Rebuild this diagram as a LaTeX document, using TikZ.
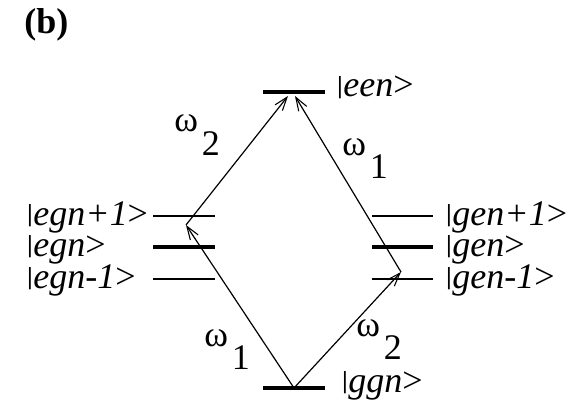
\documentclass[tikz,border=0pt]{standalone}
\usepackage{fontspec}
\usepackage{graphicx}
\setmainfont{Liberation Serif}
\usetikzlibrary{arrows.meta}
\tikzset{
  thinlevel/.style={line width=1pt},
  thicklevel/.style={line width=2.8pt},
  photon/.style={line width=0.9pt,-{Straight Barb[length=10pt,width=7pt,line width=0.8pt]}},
  statelabel/.style={inner sep=0pt,font=\fontsize{27}{32}\selectfont},
}
\newcommand{\freq}[1]{\textup{ω}\hspace{3pt}\raisebox{-0.64em}{#1}}
\newcommand{\state}[1]{\raisebox{0.1em}{\scalebox{1}[0.68]{|}}\textit{#1}>}
\begin{document}
\begin{tikzpicture}[x=0.75pt,y=-0.75pt]
\useasboundingbox (0,0) rectangle (584,399);

\node[statelabel,anchor=base west] (panel) at (24,34) {\textbf{(b)}};

% levels
\coordinate (een) at (294,92);
\coordinate (ggn) at (294,388);
\draw[thicklevel] (263,92) -- (325,92);
\draw[thicklevel] (263,388) -- (325,388);

\draw[thinlevel] (153,216) -- (215,216);
\draw[thicklevel] (153,247) -- (215,247);
\draw[thinlevel] (153,279) -- (215,279);

\draw[thinlevel] (372,216) -- (433,216);
\draw[thicklevel] (372,247) -- (433,247);
\draw[thinlevel] (372,279) -- (433,279);

% state labels
\node[statelabel,anchor=base west] (lbleen) at (336,97) {\state{een}};
\node[statelabel,anchor=base west] (lblggn) at (341,392) {\state{ggn}};

\node[statelabel,anchor=base west] (lblegnp) at (26,225) {\state{egn+1}};
\node[statelabel,anchor=base west] (lblegn) at (26,256) {\state{egn}};
\node[statelabel,anchor=base west] (lblegnm) at (26,288) {\state{egn-1}};

\node[statelabel,anchor=base west] (lblgenp) at (445,225) {\state{gen+1}};
\node[statelabel,anchor=base west] (lblgen) at (445,256) {\state{gen}};
\node[statelabel,anchor=base west] (lblgenm) at (445,288) {\state{gen-1}};

% transitions
\coordinate (vleft) at (186,225);
\coordinate (vright) at (401,272);
\coordinate (eenl) at (288,96);
\coordinate (eenr) at (295,96);

\draw[photon] (ggn) -- (vleft);
\draw[photon] (vleft) -- (eenl);
\draw[photon] (ggn) -- (vright);
\draw[photon] (vright) -- (eenr);

% frequencies
\node[statelabel,anchor=base west] (wtl) at (174,132) {\freq{2}};
\node[statelabel,anchor=base west] (wtr) at (342,155) {\freq{1}};
\node[statelabel,anchor=base west] (wbl) at (204,346) {\freq{1}};
\node[statelabel,anchor=base west] (wbr) at (356,336) {\freq{2}};
\end{tikzpicture}
\end{document}
